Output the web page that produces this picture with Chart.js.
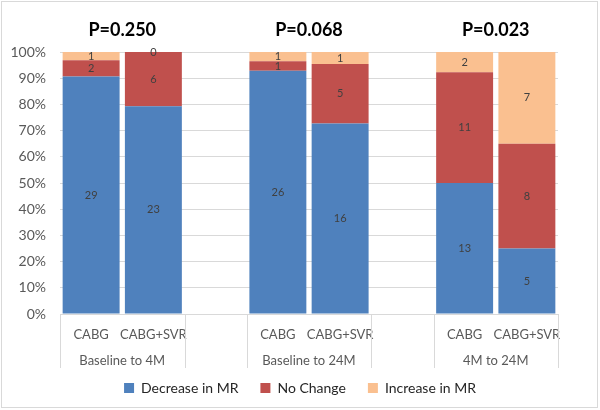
<!doctype html>
<head>
<style>
* {
    box-sizing: border-box;
    margin: 0;
    padding: 0;
}
body {
    width: 600px;
    height: 410px;
    background: white;
}
#wrap {
    position: relative;
    width: 600px;
    height: 410px;
}
</style>
</head>
<div id="wrap"><canvas></canvas></div>
<script src="https://cdn.jsdelivr.net/npm/chart.js@4"></script>
<script>

// counts per bar; the empty slots are the spacers between groups
let categories = ['CABG', 'CABG+SVR', '', 'CABG', 'CABG+SVR', '', 'CABG', 'CABG+SVR']
let groups = ['Baseline to 4M', 'Baseline to 24M', '4M to 24M']
let pValues = ['P=0.250', 'P=0.068', 'P=0.023']
let seriesNames = ['Decrease in MR', 'No Change', 'Increase in MR']
let decrease = [29, 23, null, 26, 16, null, 13, 5]
let noChange = [2, 6, null, 1, 5, null, 11, 8]
let increase = [1, 0, null, 1, 1, null, 2, 7]
let yTicks = [0, 10, 20, 30, 40, 50, 60, 70, 80, 90, 100]

let colors = ['#4f81bd', '#c0504d', '#fac090']
let counts = [decrease, noChange, increase]
let font = 'Lato, "Open Sans", sans-serif'

function share(series, i) {
    if (series[i] == null) return null
    let total = decrease[i] + noChange[i] + increase[i]
    return series[i] / total * 100
}

let datasets = counts.map((series, k) => ({
    label: seriesNames[k],
    data: series.map((v, i) => share(series, i)),
    backgroundColor: colors[k],
    barPercentage: 0.915,
    categoryPercentage: 1,
}))

let extras = {
    id: 'extras',
    beforeDraw(chart) {
        let ctx = chart.ctx
        ctx.save()
        ctx.fillStyle = 'white'
        ctx.fillRect(0, 0, chart.width, chart.height)
        ctx.strokeStyle = '#d9d9d9'
        ctx.lineWidth = 1
        ctx.strokeRect(1.5, 1.5, 596, 406)
        ctx.restore()
    },
    afterDraw(chart) {
        let ctx = chart.ctx
        let x = chart.scales.x
        let area = chart.chartArea
        let half = (x.getPixelForValue(1) - x.getPixelForValue(0)) / 2
        ctx.save()

        // count labels in the middle of each segment
        ctx.font = '11px ' + font
        ctx.fillStyle = '#404040'
        ctx.textAlign = 'center'
        ctx.textBaseline = 'middle'
        chart.data.datasets.forEach((ds, k) => {
            chart.getDatasetMeta(k).data.forEach((bar, i) => {
                if (counts[k][i] == null) return
                ctx.fillText(String(counts[k][i]), bar.x, (bar.y + bar.base) / 2)
            })
        })

        // group dividers, group names and P values
        ctx.strokeStyle = '#d9d9d9'
        ctx.lineWidth = 1
        groups.forEach((g, j) => {
            let a = j * 3, b = j * 3 + 1
            let left = Math.round(x.getPixelForValue(a) - half) + 0.5
            let right = Math.round(x.getPixelForValue(b) + half) + 0.5
            ctx.beginPath()
            ctx.moveTo(left, area.bottom)
            ctx.lineTo(left, area.bottom + 54)
            ctx.moveTo(right, area.bottom)
            ctx.lineTo(right, area.bottom + 54)
            ctx.stroke()

            let mid = (x.getPixelForValue(a) + x.getPixelForValue(b)) / 2
            ctx.font = '13px ' + font
            ctx.fillStyle = '#595959'
            ctx.fillText(g, mid, area.bottom + 47)

            ctx.font = 'bold 18px ' + font
            ctx.fillStyle = '#000000'
            ctx.fillText(pValues[j], mid, 30)
        })
        ctx.restore()
    },
}

new Chart(document.querySelector('canvas'), {
    type: 'bar',
    data: {
        labels: categories,
        datasets,
    },
    options: {
        responsive: true,
        maintainAspectRatio: false,
        animation: false,
        layout: {
            padding: { top: 52, right: 0, bottom: 5, left: 0 },
        },
        scales: {
            x: {
                stacked: true,
                grid: { display: false },
                border: { display: false },
                ticks: {
                    color: '#595959',
                    font: { family: font, size: 13 },
                    padding: 5,
                    maxRotation: 0,
                    autoSkip: false,
                },
                afterFit(scale) {
                    scale.height = 45
                },
            },
            y: {
                stacked: true,
                min: 0,
                max: 100,
                afterBuildTicks(scale) {
                    scale.ticks = yTicks.map(v => ({ value: v }))
                },
                grid: { color: '#d9d9d9', drawTicks: false },
                border: { display: false },
                ticks: {
                    color: '#595959',
                    font: { family: font, size: 14 },
                    padding: 14,
                    callback: v => v + '%',
                },
                afterFit(scale) {
                    scale.width = 60
                },
            },
            // empty right-hand strip so the legend stays centred on the page
            spacer: {
                position: 'right',
                grid: { display: false },
                border: { display: false },
                ticks: { display: false },
                afterFit(scale) {
                    scale.width = 42
                },
            },
        },
        plugins: {
            legend: {
                position: 'bottom',
                labels: {
                    boxWidth: 10,
                    boxHeight: 10,
                    padding: 22,
                    color: '#262626',
                    font: { family: font, size: 14 },
                },
            },
            tooltip: { enabled: false },
        },
    },
    plugins: [extras],
})

</script>
